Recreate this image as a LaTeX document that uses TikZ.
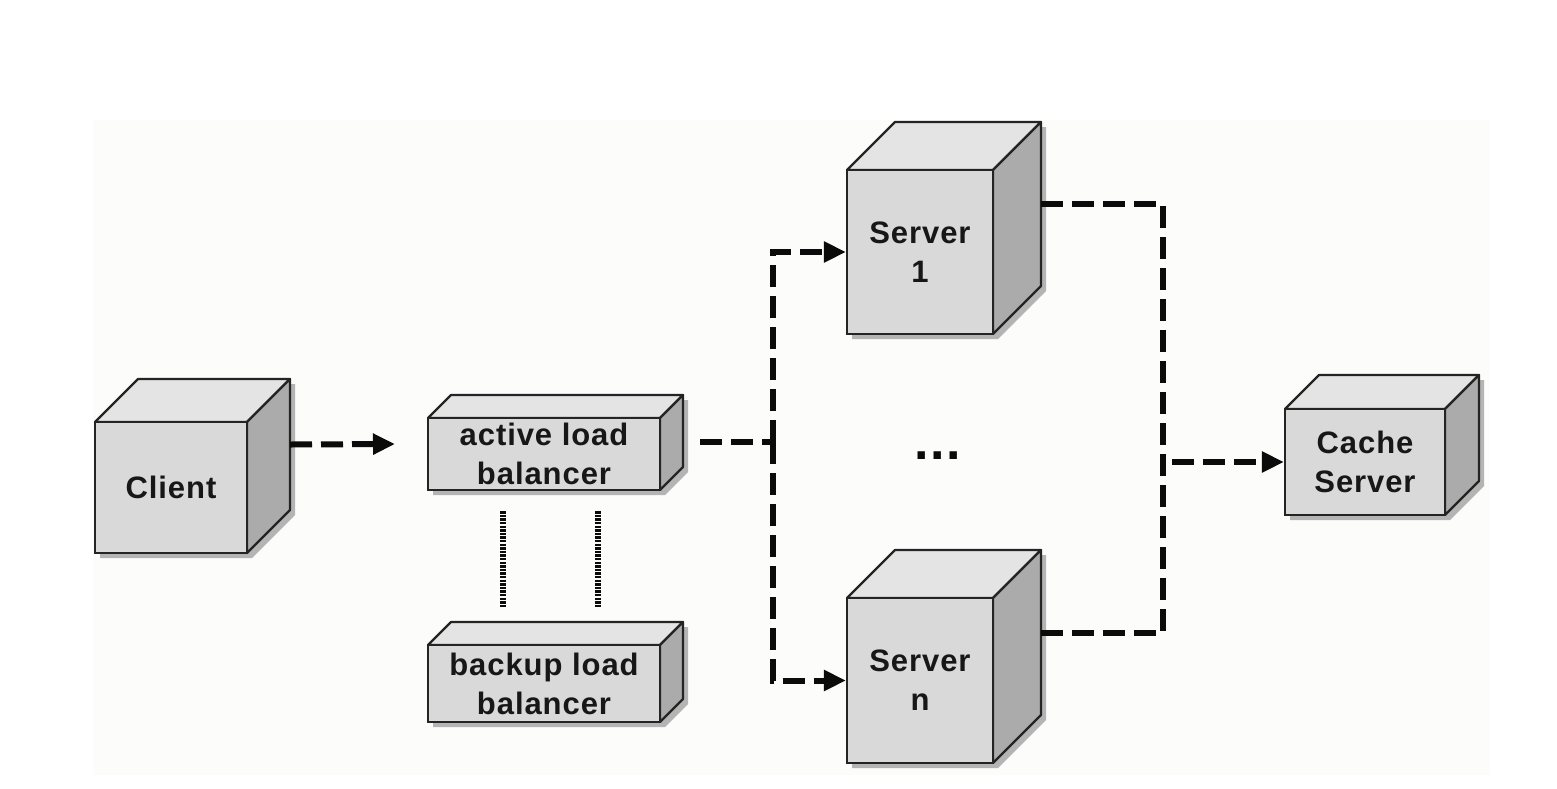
\documentclass[tikz,border=0pt]{standalone}
\usepackage{fontspec}
\setmainfont{Liberation Sans}[LetterSpace=3]
\usepackage{tikz}
\usetikzlibrary{arrows.meta,calc}
\definecolor{cara}{HTML}{D9D9D9}
\definecolor{techo}{HTML}{E4E4E4}
\definecolor{lateral}{HTML}{ABABAB}
\definecolor{sombra}{HTML}{B4B4B4}
\definecolor{borde}{HTML}{242424}
\definecolor{tinta}{HTML}{0B0B0B}
\definecolor{fondo}{HTML}{FCFCFB}
\tikzset{
  frente/.style={rectangle,draw=borde,fill=cara,line width=1.1pt,inner sep=0pt,align=center,font=\fontsize{15.5}{19.5}\selectfont\bfseries,text=tinta!95},
  cubotapa/.style={draw=borde,fill=techo,line width=1.1pt,line join=round},
  cubolado/.style={draw=borde,fill=lateral,line width=1.1pt,line join=round},
  cubosombra/.style={fill=sombra},
  flujo/.style={draw=tinta,line width=3pt,dash pattern=on 11pt off 4.5pt},
  flecha/.style={flujo,-{Triangle[length=11pt,width=10pt]}},
  enlace/.style={draw=tinta,line width=3pt,dash pattern=on 1.2pt off 0.6pt},
  puntos/.style={font=\fontsize{26}{26}\selectfont\bfseries,text=tinta,inner sep=0pt},
}
% #1 nombre, #2 x, #3 y (centro de la cara frontal), #4 ancho, #5 alto, #6 fondo, #7 texto
\newcommand{\cubo}[7]{%
  \begin{scope}[shift={(#2,#3)}]
    \path[cubosombra,shift={(5,5)}] (-#4/2,-#5/2) -- ++(#6,-#6) -- (#4/2+#6,-#5/2-#6) -- (#4/2+#6,#5/2-#6) -- (#4/2,#5/2) -- (-#4/2,#5/2) -- cycle;
    \path[cubotapa] (-#4/2,-#5/2) -- ++(#6,-#6) -- (#4/2+#6,-#5/2-#6) -- (#4/2,-#5/2) -- cycle;
    \path[cubolado] (#4/2,-#5/2) -- (#4/2+#6,-#5/2-#6) -- (#4/2+#6,#5/2-#6) -- (#4/2,#5/2) -- cycle;
    \coordinate (#1-der) at (#4/2+#6,-#6);
  \end{scope}
  \node[frente,minimum width=#4*0.5pt,minimum height=#5*0.5pt] (#1) at (#2,#3) {#7};
}
\begin{document}
\begin{tikzpicture}[x=0.5pt,y=-0.5pt]
\useasboundingbox (0,0) rectangle (1557,788);
\fill[fondo] (93,120) rectangle (1490,775);
% cajas
\cubo{client}{171}{487.5}{152}{131}{43}{Client}
\cubo{activo}{544}{454}{232}{72}{23}{active load\\balancer}
\cubo{respaldo}{544}{683.5}{232}{77}{23}{backup load\\balancer}
\cubo{server1}{920}{252}{146}{164}{48}{Server\\1}
\cubo{servern}{920}{680.5}{146}{165}{48}{Server\\n}
\cubo{cache}{1365}{462}{160}{106}{34}{Cache\\Server}
\node[puntos] (etc) at (938,456) {...};
% conexiones
\coordinate (llegada) at (395,444);
\coordinate (salida) at (700,442);
\coordinate (reparto) at (773,442);
\coordinate (colector) at (1163,462);
\coordinate (ramal) at (1172,462);
\draw[flecha] (client-der) -- (llegada);
\draw[flujo] (salida) -- (reparto);
\draw[flecha] (reparto) |- (server1.west);
\draw[flecha] (reparto) |- (servern.west);
\draw[flujo] (server1-der) -| (colector) |- (servern-der);
\draw[flecha] (ramal) -- (cache.west);
\draw[enlace] ($(activo.south)+(-41,20)$) -- ($(respaldo.north)+(-41,-37)$);
\draw[enlace] ($(activo.south)+(54,20)$) -- ($(respaldo.north)+(54,-37)$);
\end{tikzpicture}
\end{document}
